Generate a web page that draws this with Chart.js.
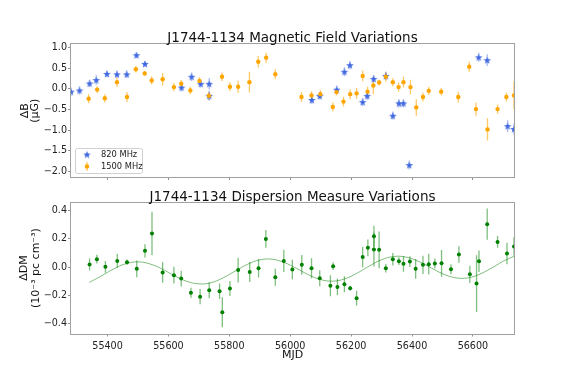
<!DOCTYPE html>
<html lang="en">
<head>
<meta charset="UTF-8">
<title>J1744-1134</title>
<script src="https://cdn.jsdelivr.net/npm/chart.js"></script>
<style>
    body { margin: 0; background: #fff; }
    .panel { position: absolute; left: 0; }
</style>
</head>
<body>
<div class="panel" style="top:0"><canvas id="bField" width="572" height="185"></canvas></div>
<div class="panel" style="top:185px"><canvas id="dmChart" width="572" height="197"></canvas></div>
<script>
    // 820 MHz points (magnetic field)
    const mjd820 = [55280, 55308, 55341, 55363, 55398, 55431, 55463, 55495, 55523, 55643, 55676, 55706, 55734, 55734, 56071, 56097, 56153, 56178, 56196, 56238, 56253, 56274, 56314, 56337, 56357, 56372, 56391, 56619, 56647, 56714, 56735];
    const db820 = [-0.07, -0.04, 0.13, 0.21, 0.36, 0.35, 0.35, 0.81, 0.60, 0.03, 0.29, 0.12, 0.12, -0.17, -0.27, -0.17, -0.02, 0.41, 0.57, -0.32, -0.17, 0.24, 0.31, -0.65, -0.35, -0.35, -1.84, 0.76, 0.69, -0.90, -0.97];
    const err820 = [0.10, 0.10, 0.09, 0.12, 0.08, 0.09, 0.09, 0.07, 0.07, 0.09, 0.10, 0.09, 0.14, 0.12, 0.10, 0.09, 0.10, 0.11, 0.10, 0.10, 0.10, 0.09, 0.10, 0.10, 0.10, 0.10, 0.11, 0.11, 0.14, 0.14, 0.14];

    // 1500 MHz points
    const mjd1500 = [55338, 55366, 55391, 55431, 55464, 55493, 55522, 55545, 55581, 55618, 55642, 55672, 55702, 55733, 55776, 55802, 55829, 55866, 55895, 55921, 55951, 56037, 56070, 56099, 56140, 56152, 56175, 56197, 56218, 56238, 56254, 56273, 56292, 56314, 56337, 56356, 56372, 56395, 56414, 56436, 56455, 56496, 56552, 56588, 56610, 56648, 56681, 56710, 56735];
    const db1500 = [-0.24, -0.02, -0.23, 0.16, -0.20, 0.47, 0.37, 0.20, 0.23, 0.04, 0.12, -0.04, 0.19, -0.17, 0.29, 0.05, 0.05, 0.16, 0.65, 0.75, 0.35, -0.20, -0.16, -0.13, -0.44, -0.08, -0.31, -0.13, -0.11, 0.31, -0.07, 0.08, 0.15, 0.29, 0.16, 0.04, 0.16, 0.04, -0.45, -0.20, -0.05, -0.07, -0.20, 0.53, -0.49, -0.98, -0.49, -0.20, -0.16];
    const err1500 = [0.11, 0.08, 0.10, 0.11, 0.12, 0.08, 0.06, 0.10, 0.15, 0.10, 0.10, 0.09, 0.09, 0.10, 0.10, 0.11, 0.15, 0.25, 0.14, 0.12, 0.12, 0.12, 0.10, 0.10, 0.11, 0.08, 0.12, 0.12, 0.13, 0.13, 0.12, 0.21, 0.07, 0.12, 0.10, 0.11, 0.13, 0.18, 0.20, 0.11, 0.10, 0.09, 0.13, 0.12, 0.16, 0.27, 0.11, 0.11, 0.33];

    // dispersion measure points
    const mjdDM = [55341, 55365, 55393, 55432, 55464, 55496, 55523, 55546, 55581, 55618, 55642, 55674, 55704, 55734, 55768, 55777, 55802, 55829, 55867, 55896, 55920, 55951, 55979, 56007, 56038, 56070, 56097, 56132, 56141, 56155, 56178, 56197, 56218, 56238, 56255, 56275, 56275, 56292, 56314, 56337, 56357, 56372, 56393, 56412, 56436, 56455, 56475, 56497, 56528, 56554, 56590, 56612, 56620, 56647, 56681, 56712, 56735];
    const dmVals = [0.019, 0.057, 0.003, 0.045, 0.036, -0.011, 0.116, 0.238, -0.037, -0.056, -0.08, -0.18, -0.207, -0.162, -0.169, -0.317, -0.15, -0.02, -0.033, -0.007, 0.20, -0.07, 0.045, -0.016, 0.017, -0.007, -0.077, -0.13, 0.007, -0.139, -0.12, -0.148, -0.218, 0.073, 0.137, 0.219, 0.125, 0.123, -0.007, 0.057, 0.043, 0.024, 0.04, -0.011, 0.017, 0.022, 0.026, 0.028, -0.014, 0.09, -0.05, -0.115, 0.043, 0.304, 0.179, 0.097, 0.146];
    const errDM = [0.042, 0.031, 0.041, 0.05, 0.018, 0.059, 0.047, 0.153, 0.072, 0.059, 0.055, 0.035, 0.053, 0.056, 0.055, 0.106, 0.053, 0.088, 0.07, 0.066, 0.062, 0.06, 0.078, 0.069, 0.07, 0.07, 0.056, 0.074, 0.026, 0.059, 0.056, 0.018, 0.052, 0.072, 0.059, 0.074, 0.12, 0.13, 0.03, 0.044, 0.027, 0.055, 0.038, 0.07, 0.065, 0.073, 0.035, 0.094, 0.035, 0.059, 0.061, 0.2, 0.076, 0.11, 0.041, 0.076, 0.065];

    // fitted curve
    const fitMJD = [55340, 55380, 55420, 55460, 55500, 55540, 55580, 55620, 55660, 55700, 55740, 55780, 55820, 55860, 55900, 55940, 55980, 56020, 56060, 56100, 56140, 56180, 56220, 56260, 56300, 56340, 56380, 56420, 56460, 56500, 56540, 56580, 56620, 56660, 56700, 56740];
    const fitDM = [-0.107, -0.061, -0.012, 0.025, 0.038, 0.023, -0.013, -0.060, -0.099, -0.117, -0.109, -0.074, -0.026, 0.021, 0.052, 0.057, 0.034, -0.007, -0.053, -0.087, -0.098, -0.081, -0.041, 0.009, 0.053, 0.076, 0.072, 0.043, -0.001, -0.045, -0.073, -0.076, -0.051, -0.007, 0.043, 0.082];

    const mjdTicks = [55400, 55600, 55800, 56000, 56200, 56400, 56600];
    const bTicks = [-2.0, -1.5, -1.0, -0.5, 0.0, 0.5, 1.0];
    const dmTicks = [-0.4, -0.2, 0.0, 0.2, 0.4];

    const FONT = "'DejaVu Sans', sans-serif";
    const BLUE = '#4169e1', ORANGE = '#ffa500', GREEN = '#008000';

    function pts(xs, ys) {
        return xs.map((x, i) => ({ x: x, y: ys[i] }));
    }
    function fmt(v) {
        return v.toFixed(1).replace('-', '\u2212');
    }

    function makeStar(color, r) {
        const c = document.createElement('canvas');
        const s = Math.ceil(r * 2) + 2;
        c.width = c.height = s;
        const g = c.getContext('2d');
        g.fillStyle = color;
        g.beginPath();
        for (let k = 0; k < 10; k++) {
            const rad = k % 2 ? r * 0.4 : r;
            const a = -Math.PI / 2 + k * Math.PI / 5;
            g.lineTo(s / 2 + rad * Math.cos(a), s / 2 + rad * Math.sin(a) + 0.4);
        }
        g.closePath();
        g.fill();
        return c;
    }
    const starImg = makeStar(BLUE, 4.0);

    // vertical error bars, drawn under the markers
    const errorBars = {
        id: 'errorBars',
        beforeDatasetsDraw(chart) {
            const ctx = chart.ctx, a = chart.chartArea;
            const xs = chart.scales.x, ys = chart.scales.y;
            ctx.save();
            ctx.beginPath();
            ctx.rect(a.left, a.top, a.right - a.left, a.bottom - a.top);
            ctx.clip();
            chart.data.datasets.forEach((ds) => {
                if (!ds.errors) return;
                ctx.strokeStyle = ds.errorColor;
                ctx.lineWidth = 1.3;
                ds.data.forEach((p, j) => {
                    const x = xs.getPixelForValue(p.x);
                    ctx.beginPath();
                    ctx.moveTo(x, ys.getPixelForValue(p.y - ds.errors[j]));
                    ctx.lineTo(x, ys.getPixelForValue(p.y + ds.errors[j]));
                    ctx.stroke();
                });
            });
            ctx.restore();
        }
    };

    // grey box round the plot area
    const frame = {
        id: 'frame',
        afterDraw(chart) {
            const ctx = chart.ctx, a = chart.chartArea;
            ctx.save();
            ctx.strokeStyle = '#a0a0a0';
            ctx.lineWidth = 1;
            ctx.strokeRect(Math.round(a.left) - 0.5, Math.round(a.top) - 0.5,
                Math.round(a.right) - Math.round(a.left) + 1, Math.round(a.bottom) - Math.round(a.top) + 1);
            ctx.restore();
        }
    };

    // title centred over the plot area, not the canvas
    const panelTitle = {
        id: 'panelTitle',
        afterDraw(chart, args, opts) {
            const ctx = chart.ctx, a = chart.chartArea;
            ctx.save();
            ctx.fillStyle = '#111';
            ctx.font = '13.5px ' + FONT;
            ctx.textAlign = 'center';
            ctx.textBaseline = 'middle';
            ctx.fillText(opts.text, (a.left + a.right) / 2, a.top - 5.6);
            ctx.restore();
        }
    };

    // small legend box in the lower left corner
    const cornerLegend = {
        id: 'cornerLegend',
        afterDraw(chart) {
            const ctx = chart.ctx, a = chart.chartArea;
            const x0 = a.left + 4, y0 = a.bottom - 29;
            ctx.save();
            ctx.fillStyle = 'rgba(255,255,255,0.85)';
            ctx.strokeStyle = '#d0d0d0';
            ctx.lineWidth = 1;
            ctx.beginPath();
            ctx.roundRect(x0 + 0.5, y0 + 0.5, 67, 25, 2);
            ctx.fill();
            ctx.stroke();
            ctx.drawImage(starImg, x0 + 12 - starImg.width / 2, y0 + 6.5 - starImg.height / 2);
            ctx.strokeStyle = 'rgba(255,165,0,0.6)';
            ctx.lineWidth = 1.3;
            ctx.beginPath();
            ctx.moveTo(x0 + 12, y0 + 14);
            ctx.lineTo(x0 + 12, y0 + 23);
            ctx.stroke();
            ctx.fillStyle = ORANGE;
            ctx.beginPath();
            ctx.arc(x0 + 12, y0 + 18.5, 2.2, 0, Math.PI * 2);
            ctx.fill();
            ctx.fillStyle = '#222';
            ctx.font = '8.3px ' + FONT;
            ctx.textBaseline = 'middle';
            ctx.fillText('820 MHz', x0 + 26, y0 + 6.5);
            ctx.fillText('1500 MHz', x0 + 26, y0 + 18.5);
            ctx.restore();
        }
    };

    function xAxis(showLabels, height) {
        return {
            type: 'linear',
            min: 55280,
            max: 56735,
            border: { display: false },
            grid: { drawOnChartArea: false, drawTicks: true, tickLength: 3, color: '#909090' },
            ticks: {
                display: showLabels,
                padding: 4,
                color: '#222',
                font: { family: FONT, size: 9.6 },
                callback: (v) => String(v)
            },
            title: showLabels ? {
                display: true, text: 'MJD', color: '#111',
                font: { family: FONT, size: 11, lineHeight: 1.2 },
                padding: { top: 0, bottom: 2 }
            } : { display: false },
            afterBuildTicks: (s) => { s.ticks = mjdTicks.map(v => ({ value: v })); },
            afterFit: (s) => { s.height = height; }
        };
    }

    function yAxis(min, max, tickVals, label, lh, pad) {
        return {
            min: min,
            max: max,
            border: { display: false },
            grid: { drawOnChartArea: false, drawTicks: true, tickLength: 3, color: '#909090' },
            ticks: {
                padding: 1,
                color: '#222',
                font: { family: FONT, size: 9.6 },
                callback: (v) => fmt(v)
            },
            title: {
                display: true, text: label, color: '#111',
                font: { family: FONT, size: 11, lineHeight: lh },
                padding: { top: pad, bottom: 0 }
            },
            afterBuildTicks: (s) => { s.ticks = tickVals.map(v => ({ value: v })); },
            afterFit: (s) => { s.width = 71; }
        };
    }

    new Chart(document.getElementById('bField'), {
        type: 'scatter',
        data: {
            datasets: [{
                label: '1500 MHz',
                data: pts(mjd1500, db1500),
                errors: err1500,
                errorColor: 'rgba(255,165,0,0.6)',
                backgroundColor: ORANGE,
                borderWidth: 0,
                pointRadius: 2.2,
                clip: 0
            }, {
                label: '820 MHz',
                data: pts(mjd820, db820),
                errors: err820,
                errorColor: 'rgba(65,105,225,0.45)',
                pointStyle: starImg,
                backgroundColor: BLUE,
                clip: 0
            }]
        },
        options: {
            responsive: false,
            animation: false,
            devicePixelRatio: 1,
            layout: { padding: { left: 0, right: 58, top: 44.4, bottom: 3 } },
            plugins: {
                legend: { display: false },
                tooltip: { enabled: false },
                title: { display: false },
                panelTitle: { text: 'J1744-1134 Magnetic Field Variations' }
            },
            scales: {
                x: xAxis(false, 5),
                y: yAxis(-2.128, 1.07, bTicks, ['\u0394B', '(\u03bcG)'], 0.9, 20.5)
            }
        },
        plugins: [errorBars, frame, panelTitle, cornerLegend]
    });

    new Chart(document.getElementById('dmChart'), {
        type: 'scatter',
        data: {
            datasets: [{
                label: 'DM',
                data: pts(mjdDM, dmVals),
                errors: errDM,
                errorColor: 'rgba(0,128,0,0.5)',
                backgroundColor: GREEN,
                borderWidth: 0,
                pointRadius: 2,
                clip: 0
            }, {
                type: 'line',
                label: 'fit',
                data: pts(fitMJD, fitDM),
                borderColor: 'rgba(0,128,0,0.5)',
                borderWidth: 1,
                pointRadius: 0,
                fill: false,
                tension: 0.4,
                clip: 0
            }]
        },
        options: {
            responsive: false,
            animation: false,
            devicePixelRatio: 1,
            layout: { padding: { left: 0, right: 58, top: 17.6, bottom: 18.5 } },
            plugins: {
                legend: { display: false },
                tooltip: { enabled: false },
                title: { display: false },
                panelTitle: { text: 'J1744-1134 Dispersion Measure Variations' }
            },
            scales: {
                x: xAxis(true, 30),
                y: yAxis(-0.467, 0.456, dmTicks, ['\u0394DM', '(10\u207b\u00b3 pc cm\u207b\u00b3)'], 1.1, 18)
            }
        },
        plugins: [errorBars, frame, panelTitle]
    });
</script>
</body>
</html>
